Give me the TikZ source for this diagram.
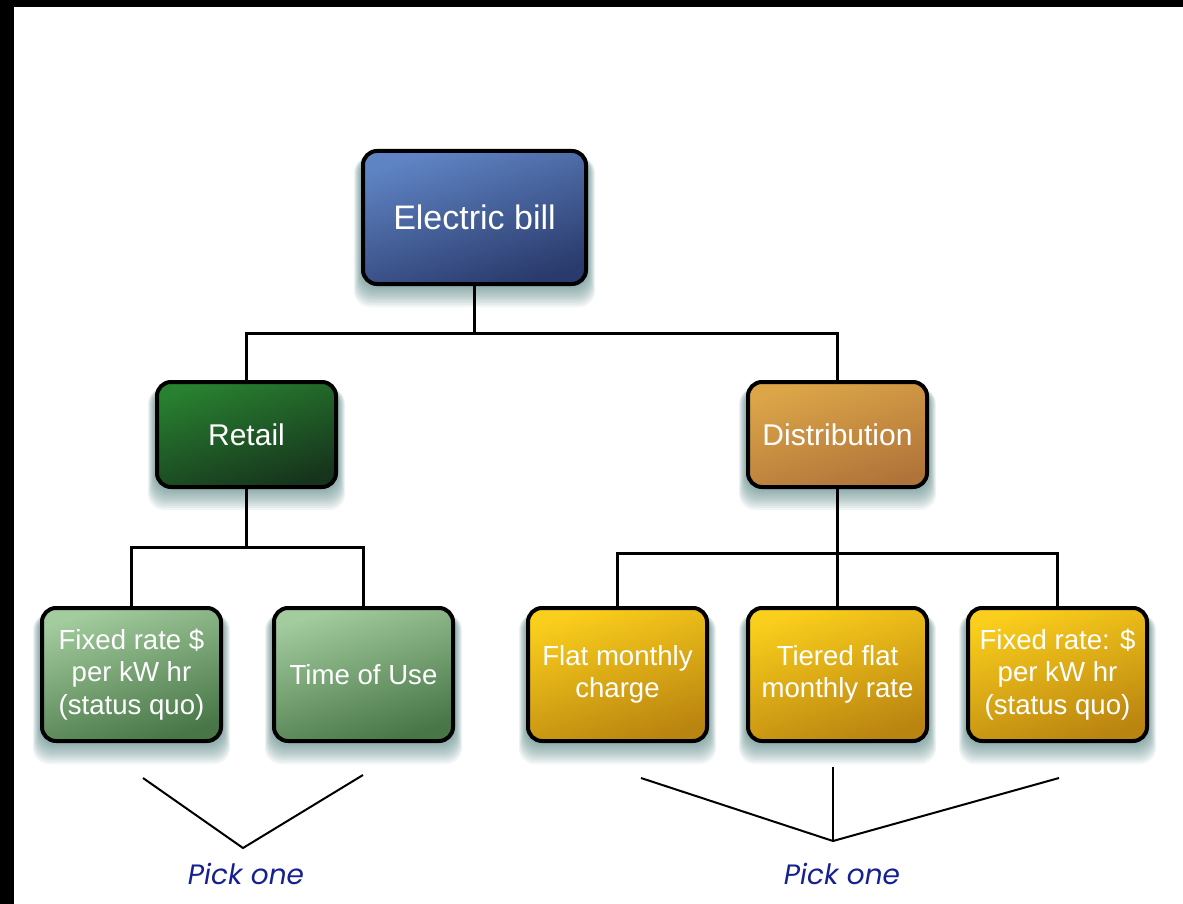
\documentclass[tikz,border=0pt]{standalone}
\usepackage{fontspec}
\setmainfont{Liberation Sans}
\newfontfamily\pickfont{Poppins}
\usetikzlibrary{backgrounds}
\definecolor{pickblue}{RGB}{22,32,145}
\definecolor{shadowteal}{RGB}{50,105,105}
\begin{document}
\begin{tikzpicture}[x=0.5pt,y=-0.5pt,
  box/.style={draw=black, line width=2pt, rounded corners=7pt, text=white, align=center, inner sep=0pt},
  bigbox/.style={box, minimum width=111.5pt, minimum height=66.5pt, font=\fontsize{17}{20}\selectfont},
  midbox/.style={box, minimum width=89.5pt, minimum height=52.5pt, font=\fontsize{15}{17}\selectfont},
  lowbox/.style={box, minimum width=89.5pt, minimum height=66.5pt, font=\fontsize{13.8}{16.3}\selectfont},
  grad/.style 2 args={top color=#1, bottom color=#2, shading angle=18},
  navy/.style={grad={{rgb,255:red,95;green,132;blue,196}}{{rgb,255:red,42;green,58;blue,108}}},
  dkgreen/.style={grad={{rgb,255:red,40;green,128;blue,48}}{{rgb,255:red,22;green,52;blue,28}}},
  ochre/.style={grad={{rgb,255:red,220;green,166;blue,72}}{{rgb,255:red,176;green,116;blue,58}}},
  ltgreen/.style={grad={{rgb,255:red,162;green,203;blue,158}}{{rgb,255:red,72;green,118;blue,70}}},
  gold/.style={grad={{rgb,255:red,250;green,206;blue,28}}{{rgb,255:red,186;green,132;blue,16}}},
  shadowlayer/.style={fill=shadowteal, fill opacity=0.065, rounded corners=8pt},
  conn/.style={line width=1.5pt},
  pick/.style={line width=1pt},
  picktext/.style={text=pickblue, font=\pickfont\itshape\fontsize{14}{16}\selectfont}
]
\useasboundingbox (0,0) rectangle (1183,904);

\node[bigbox, navy] (bill) at (474.5,217.5) {Electric bill};

\node[midbox, dkgreen] (ret) at (246.5,434.5) {Retail};
\node[midbox, ochre] (dist) at (837.5,434.5) {Distribution};

\node[lowbox, ltgreen] (fix1) at (131.5,674.5) {Fixed rate \$\\per kW hr\\(status quo)};
\node[lowbox, ltgreen] (tou) at (363.5,674.5) {Time of Use};

\node[lowbox, gold] (flat) at (617.5,674.5) {Flat monthly\\charge};
\node[lowbox, gold] (tier) at (837.5,674.5) {Tiered flat\\monthly rate};
\node[lowbox, gold] (fix2) at (1057.5,674.5) {Fixed rate: \$\\per kW hr\\(status quo)};

\begin{scope}[on background layer]
  \fill[white] (0,0) rectangle (1183,904);
  \fill[black] (0,0) rectangle (1183,7);
  \fill[black] (0,0) rectangle (14,904);
  \foreach \n in {bill,ret,dist,fix1,tou,flat,tier,fix2}{
    \foreach \k in {1,...,10}{
      \fill[shadowlayer] ([xshift=-\k*0.35pt, yshift=-4pt]\n.north west) rectangle ([xshift=\k*0.35pt, yshift=-\k*1.05pt]\n.south east);
    }
  }
\end{scope}

\coordinate (j1) at (474.5,333);
\coordinate (j2) at (246.5,547);
\coordinate (j3) at (837.5,553);
\draw[conn] (bill.south) -- (j1);
\draw[conn] (ret.north) |- (j1) -| (dist.north);
\draw[conn] (ret.south) -- (j2);
\draw[conn] (fix1.north) |- (j2) -| (tou.north);
\draw[conn] (dist.south) -- (j3);
\draw[conn] (flat.north) |- (j3) -| (fix2.north);
\draw[conn] (j3) -- (tier.north);

\coordinate (pl1) at (143,778);
\coordinate (pl0) at (243,848);
\coordinate (pl2) at (363,775);
\draw[pick] (pl1) -- (pl0) -- (pl2);
\node[picktext] (pick1) at (246,874) {Pick one};

\coordinate (pr1) at (641,778);
\coordinate (pr0) at (833,841);
\coordinate (pr2) at (1059,778);
\coordinate (pr3) at (833,767);
\draw[pick] (pr1) -- (pr0) -- (pr2);
\draw[pick] (pr3) -- (pr0);
\node[picktext] (pick2) at (842,874) {Pick one};
\end{tikzpicture}
\end{document}
